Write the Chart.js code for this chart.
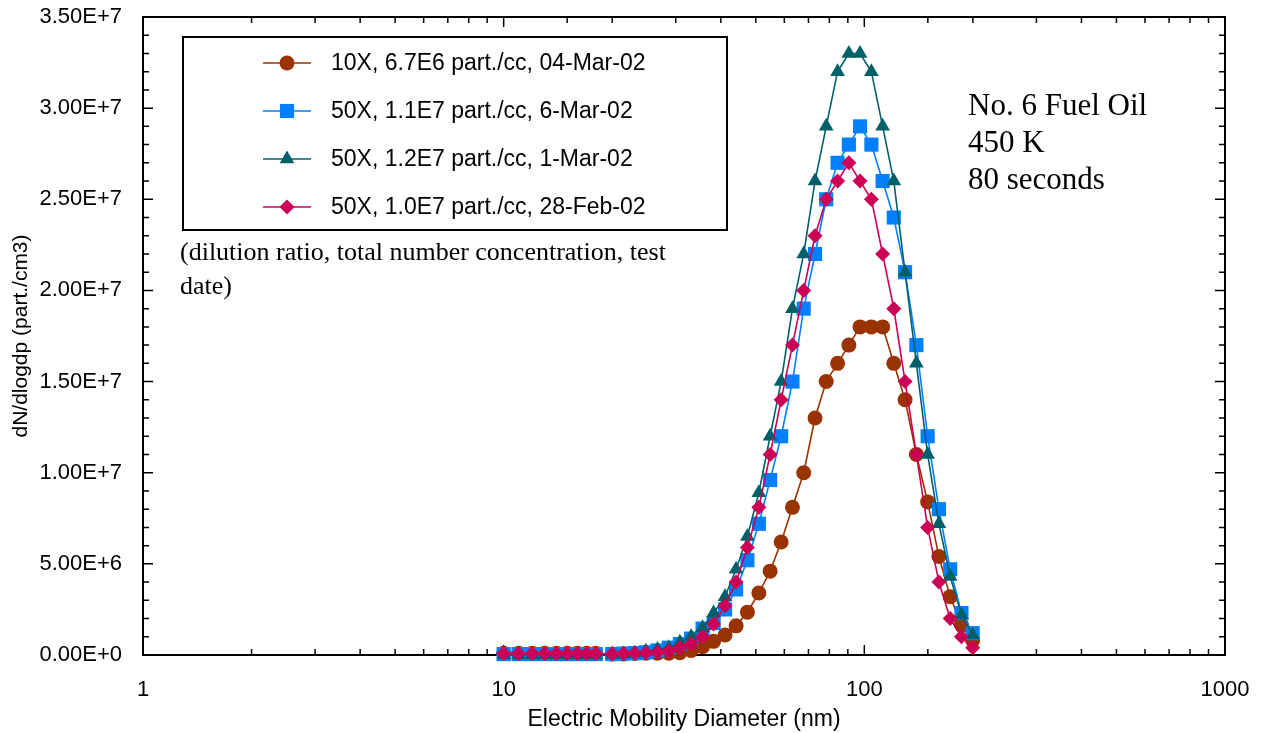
<!DOCTYPE html>
<html>
<head>
<meta charset="utf-8">
<script src="https://cdn.jsdelivr.net/npm/chart.js@4/dist/chart.umd.min.js"></script>
<style>
  body { margin: 0; background: #fff; }
</style>
</head>
<body>
<canvas id="psd-chart" width="1262" height="733"></canvas>
<script>
  // electric mobility diameter (nm)
  const diameters = [10, 11, 12, 13, 14, 15, 16, 17, 18, 20, 21.5, 23.1, 24.8, 26.7, 28.7, 30.8,
    33.1, 35.6, 38.2, 41.1, 44.1, 47.4, 51.0, 54.8, 58.8, 63.2, 67.9, 73.0, 78.4, 84.3, 90.6,
    97.3, 104.6, 112.4, 120.7, 129.7, 139.4, 149.8, 161.0, 173.0, 185.9, 199.7];

  // dN/dlogdp in units of 1E6 part./cm3
  const mar04 = [0.1, 0.1, 0.1, 0.1, 0.1, 0.1, 0.1, 0.1, 0.1, 0.05, 0.05, 0.08, 0.1, 0.1, 0.1,
    0.12, 0.25, 0.45, 0.75, 1.1, 1.6, 2.35, 3.4, 4.6, 6.2, 8.1, 10.0, 13.0, 15.0, 16.0, 17.0,
    18.0, 18.0, 18.0, 16.0, 14.0, 11.0, 8.4, 5.4, 3.2, 1.65, 0.8];
  const mar06 = [0.05, 0.05, 0.05, 0.05, 0.05, 0.05, 0.05, 0.05, 0.05, 0.05, 0.08, 0.1, 0.15,
    0.25, 0.4, 0.6, 0.9, 1.45, 1.75, 2.5, 3.6, 5.2, 7.2, 9.6, 12.0, 15.0, 19.0, 22.0, 25.0,
    27.0, 28.0, 29.0, 28.0, 26.0, 24.0, 21.0, 17.0, 12.0, 8.0, 4.7, 2.3, 1.2];
  const mar01 = [0, 0, 0, 0, 0, 0, 0, 0, 0, 0.02, 0.05, 0.1, 0.2, 0.3, 0.4, 0.7, 1.0, 1.5, 2.3,
    3.2, 4.7, 6.5, 8.9, 12.0, 15.0, 19.0, 22.0, 26.0, 29.0, 32.0, 33.0, 33.0, 32.0, 29.0, 26.0,
    21.0, 16.0, 11.0, 7.2, 4.3, 2.2, 1.1];
  const feb28 = [0.08, 0.08, 0.08, 0.08, 0.08, 0.08, 0.08, 0.08, 0.08, 0.05, 0.08, 0.1, 0.12,
    0.15, 0.2, 0.4, 0.6, 1.0, 1.7, 2.7, 4.0, 5.9, 8.1, 11.0, 14.0, 17.0, 20.0, 23.0, 25.0,
    26.0, 27.0, 26.0, 25.0, 22.0, 19.0, 15.0, 11.0, 7.0, 4.0, 2.0, 1.0, 0.4];

  const seriesLabels = [
    '10X, 6.7E6 part./cc, 04-Mar-02',
    '50X, 1.1E7 part./cc, 6-Mar-02',
    '50X, 1.2E7 part./cc, 1-Mar-02',
    '50X, 1.0E7 part./cc, 28-Feb-02',
  ];
  const xMajorTicks = [1, 10, 100, 1000];
  const noteLines = ['No. 6 Fuel Oil', '450 K', '80 seconds'];
  const captionLines = ['(dilution ratio, total number concentration, test', 'date)'];

  const SANS = '"Liberation Sans", Arial, sans-serif';
  const SERIF = '"Liberation Serif", "Times New Roman", serif';

  const toPoints = vals => vals.map((v, i) => ({ x: diameters[i], y: v * 1e6 }));

  const styles = [
    { color: '#993300', pointStyle: 'circle', radius: 7.5, order: 3 },
    { color: '#0080ff', pointStyle: 'rect', radius: 10, order: 2 },
    { color: '#00606a', pointStyle: 'triangle', radius: 8.5, order: 1 },
    { color: '#cc0055', pointStyle: 'rectRot', radius: 7.5, order: 0 },
  ];
  const values = [mar04, mar06, mar01, feb28];

  const datasets = values.map((vals, i) => ({
    label: seriesLabels[i],
    data: toPoints(vals),
    borderColor: styles[i].color,
    backgroundColor: styles[i].color,
    pointStyle: styles[i].pointStyle,
    pointRadius: styles[i].radius,
    pointBorderWidth: 0,
    borderWidth: 1.6,
    tension: 0,
    order: styles[i].order,
    clip: false,
  }));

  function drawMarker(ctx, style, x, y, r) {
    ctx.beginPath();
    if (style === 'circle') {
      ctx.arc(x, y, r, 0, Math.PI * 2);
    } else if (style === 'rect') {
      const s = Math.SQRT1_2 * r;
      ctx.rect(x - s, y - s, 2 * s, 2 * s);
    } else if (style === 'triangle') {
      ctx.moveTo(x, y - r);
      ctx.lineTo(x + Math.sin(2 * Math.PI / 3) * r, y + r / 2);
      ctx.lineTo(x - Math.sin(2 * Math.PI / 3) * r, y + r / 2);
      ctx.closePath();
    } else {
      ctx.moveTo(x, y - r);
      ctx.lineTo(x + r, y);
      ctx.lineTo(x, y + r);
      ctx.lineTo(x - r, y);
      ctx.closePath();
    }
    ctx.fill();
  }

  // frame and inward ticks on all four sides
  const framePlugin = {
    id: 'frame',
    beforeDatasetsDraw(chart) {
      const { ctx, chartArea: a, scales: { x, y } } = chart;
      ctx.save();
      ctx.strokeStyle = '#000';
      ctx.lineWidth = 1.5;
      ctx.beginPath();
      x.ticks.forEach(t => {
        const px = x.getPixelForValue(t.value);
        const len = xMajorTicks.includes(t.value) ? 10 : 6;
        ctx.moveTo(px, a.bottom); ctx.lineTo(px, a.bottom - len);
        ctx.moveTo(px, a.top); ctx.lineTo(px, a.top + len);
      });
      for (let v = 0; v <= y.max; v += 1e6) {
        const py = y.getPixelForValue(v);
        const len = v % 5e6 === 0 ? 10 : 6;
        ctx.moveTo(a.left, py); ctx.lineTo(a.left + len, py);
        ctx.moveTo(a.right, py); ctx.lineTo(a.right - len, py);
      }
      ctx.stroke();
      ctx.lineWidth = 2;
      ctx.strokeRect(a.left, a.top, a.right - a.left, a.bottom - a.top);
      ctx.restore();
    },
  };

  // legend box and text notes
  const notesPlugin = {
    id: 'notes',
    afterDraw(chart) {
      const { ctx } = chart;
      ctx.save();
      ctx.strokeStyle = '#000';
      ctx.lineWidth = 2;
      ctx.strokeRect(183, 37, 544, 193);
      ctx.font = '23px ' + SANS;
      ctx.textBaseline = 'middle';
      ctx.textAlign = 'left';
      [63, 111, 159, 207].forEach((ly, i) => {
        const st = styles[i];
        ctx.strokeStyle = st.color;
        ctx.fillStyle = st.color;
        ctx.lineWidth = 1.6;
        ctx.beginPath();
        ctx.moveTo(263, ly); ctx.lineTo(311, ly);
        ctx.stroke();
        drawMarker(ctx, st.pointStyle, 287, ly, st.radius);
        ctx.fillStyle = '#000';
        ctx.fillText(seriesLabels[i], 331, ly + 1);
      });

      ctx.fillStyle = '#000';
      ctx.font = '26px ' + SERIF;
      captionLines.forEach((t, i) => ctx.fillText(t, 180, 253 + i * 34));

      ctx.font = '31px ' + SERIF;
      noteLines.forEach((t, i) => ctx.fillText(t, 968, 107 + i * 37));
      ctx.restore();
    },
  };

  const ctx = document.getElementById('psd-chart').getContext('2d');

  const psdChart = new Chart(ctx, {
    type: 'line',
    data: { datasets },
    options: {
      responsive: false,
      animation: false,
      layout: { padding: { top: 17, right: 37, bottom: 0, left: 0 } },
      plugins: {
        legend: { display: false },
        tooltip: { enabled: false },
      },
      scales: {
        x: {
          type: 'logarithmic',
          min: 1,
          max: 1000,
          grid: { display: false },
          border: { display: false },
          afterFit: scale => {
            scale.height = 78;
            scale.paddingLeft = 0;
            scale.paddingRight = 0;
          },
          ticks: {
            autoSkip: false,
            maxRotation: 0,
            padding: 14,
            color: '#000',
            font: { family: SANS, size: 22 },
            callback: v => (xMajorTicks.includes(v) ? String(v) : ''),
          },
          title: {
            display: true,
            text: 'Electric Mobility Diameter (nm)',
            color: '#000',
            font: { family: SANS, size: 23 },
            padding: { top: 0, bottom: 0 },
          },
        },
        y: {
          type: 'linear',
          min: 0,
          max: 3.5e7,
          grid: { display: false },
          border: { display: false },
          afterFit: scale => {
            scale.width = 143;
            scale.paddingTop = 0;
            scale.paddingBottom = 0;
          },
          ticks: {
            stepSize: 5e6,
            padding: 13,
            color: '#000',
            font: { family: SANS, size: 22 },
            callback: v => Number(v).toExponential(2).toUpperCase(),
          },
          title: {
            display: true,
            text: 'dN/dlogdp (part./cm3)',
            color: '#000',
            font: { family: SANS, size: 21 },
            padding: { top: 9, bottom: 0 },
          },
        },
      },
    },
    plugins: [framePlugin, notesPlugin],
  });
</script>
</body>
</html>
